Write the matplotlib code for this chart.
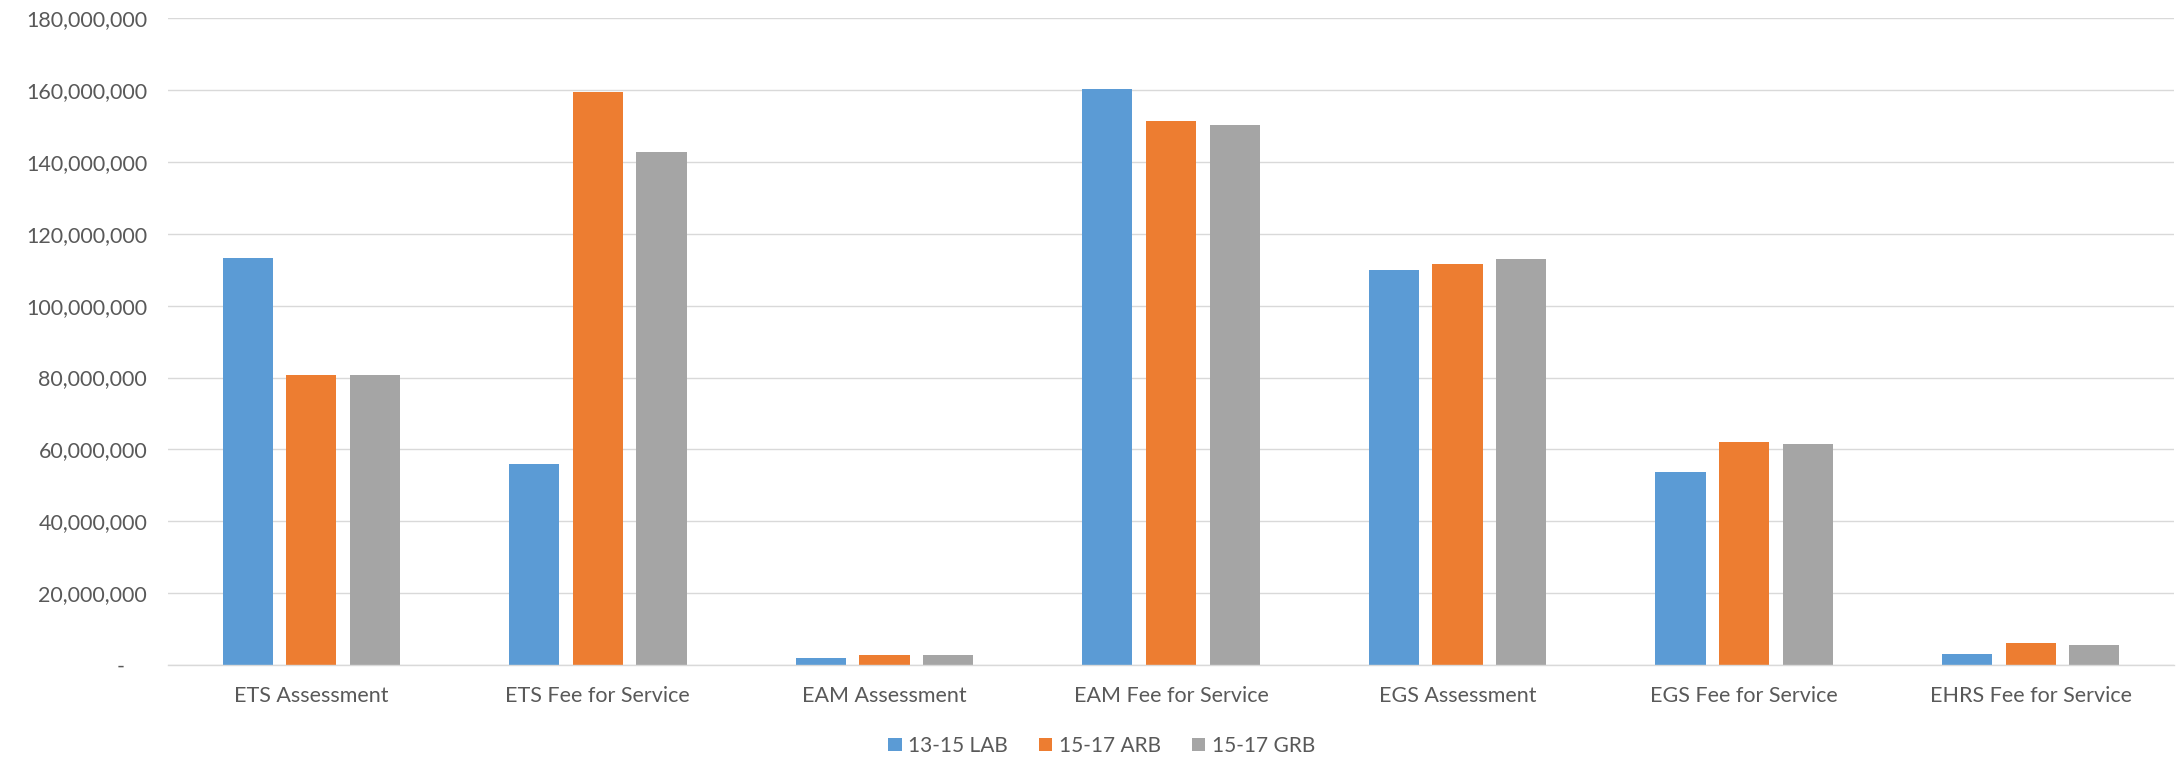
import matplotlib
matplotlib.use("Agg")
import matplotlib.pyplot as plt
from matplotlib.patches import Patch
from matplotlib.ticker import FuncFormatter
import numpy as np

categories = ["ETS Assessment", "ETS Fee for Service", "EAM Assessment",
              "EAM Fee for Service", "EGS Assessment", "EGS Fee for Service",
              "EHRS Fee for Service"]
series_names = ["13-15 LAB", "15-17 ARB", "15-17 GRB"]
lab_13_15 = [113.3e6, 56.0e6, 1.9e6, 160.4e6, 109.9e6, 53.7e6, 3.2e6]
arb_15_17 = [80.6e6, 159.4e6, 2.8e6, 151.4e6, 111.7e6, 62.0e6, 6.0e6]
grb_15_17 = [80.8e6, 142.9e6, 2.9e6, 150.3e6, 113.1e6, 61.5e6, 5.5e6]
y_ticks = np.arange(0, 180e6 + 1, 20e6)

colors = ["#5B9BD5", "#ED7D31", "#A5A5A5"]
text_color = "#595959"
grid_color = "#D9D9D9"

plt.rcParams["font.family"] = ["Lato", "DejaVu Sans"]

fig = plt.figure(figsize=(21.81, 7.61), dpi=100)
ax = fig.add_axes([168 / 2181, 1 - 665 / 761, (2174 - 168) / 2181, (665 - 18.3) / 761])

x = np.arange(len(categories))
bar_w = 0.175
step = 0.222
for i, (vals, name) in enumerate(zip([lab_13_15, arb_15_17, grb_15_17], series_names)):
    ax.bar(x + (i - 1) * step, vals, width=bar_w, color=colors[i], label=name, zorder=3)

ax.set_xlim(-0.5, len(categories) - 0.5)
ax.set_ylim(0, 180e6)
ax.set_yticks(y_ticks)


def fmt(v, pos):
    if v == 0:
        return "-    "
    return f"{v:,.0f}"


ax.yaxis.set_major_formatter(FuncFormatter(fmt))
ax.set_xticks(x)
ax.set_xticklabels(categories)

ax.grid(axis="y", color=grid_color, linewidth=1.0, zorder=0)
for s in ["top", "right", "left"]:
    ax.spines[s].set_visible(False)
ax.spines["bottom"].set_color(grid_color)
ax.spines["bottom"].set_linewidth(1.0)
ax.spines["bottom"].set_zorder(4)

ax.tick_params(axis="both", length=0, labelsize=15.5, labelcolor=text_color)
ax.tick_params(axis="y", pad=15)
ax.tick_params(axis="x", pad=15)

handles = [Patch(facecolor=c, edgecolor="none") for c in colors]
fig.legend(handles, series_names, loc="center", bbox_to_anchor=(0.505, 0.02),
           ncol=3, frameon=False, fontsize=15, labelcolor=text_color,
           handlelength=0.65, handleheight=0.65, handletextpad=0.3,
           columnspacing=1.5)

fig.savefig("out.png", dpi=100, facecolor="white")
